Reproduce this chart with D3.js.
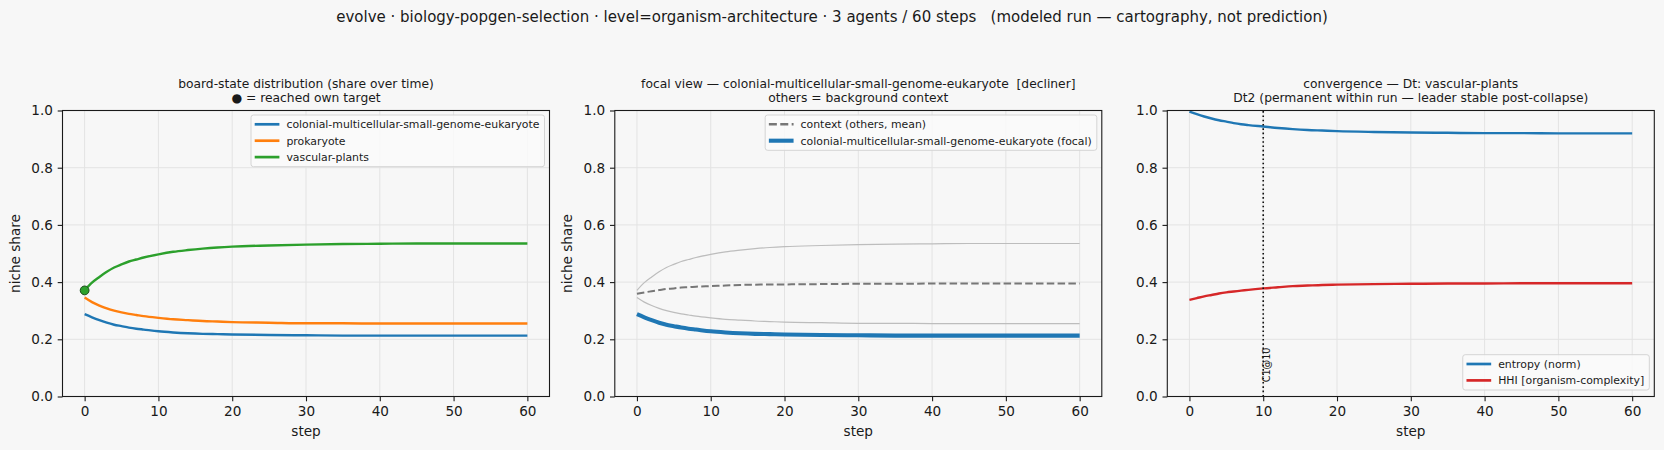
<!DOCTYPE html>
<html>
<head>
<meta charset="utf-8">
<script src="https://cdn.jsdelivr.net/npm/d3@7"></script>
<style>
  body { margin: 0; background: #f7f7f7; }
  text { font-family: "DejaVu Sans", sans-serif; fill: #1a1a1a; }
</style>
</head>
<body>
<script>
const steps = [0, 1, 2, 3, 4, 5, 6, 7, 8, 10, 12, 14, 16, 18, 20, 25, 30, 35, 40, 45, 50, 55, 60];

// niche share per agent
const colonial   = [0.288, 0.277, 0.267, 0.258, 0.251, 0.246, 0.241, 0.237, 0.234, 0.228, 0.224, 0.221, 0.219, 0.218, 0.217, 0.215, 0.214, 0.213, 0.213, 0.213, 0.213, 0.213, 0.213];
const prokaryote = [0.346, 0.330, 0.318, 0.308, 0.300, 0.294, 0.289, 0.285, 0.281, 0.275, 0.270, 0.267, 0.264, 0.262, 0.260, 0.258, 0.256, 0.256, 0.255, 0.255, 0.255, 0.255, 0.255];
const vascular   = [0.371, 0.398, 0.418, 0.436, 0.451, 0.462, 0.472, 0.479, 0.486, 0.497, 0.506, 0.512, 0.517, 0.521, 0.524, 0.528, 0.531, 0.533, 0.534, 0.535, 0.535, 0.535, 0.535];

// dashed context line (others, mean) in the focal view
const contextMean = [0.359, 0.364, 0.368, 0.372, 0.376, 0.378, 0.381, 0.382, 0.384, 0.386, 0.388, 0.390, 0.391, 0.392, 0.392, 0.393, 0.394, 0.394, 0.395, 0.395, 0.395, 0.395, 0.395];

// convergence panel
const entropy = [0.996, 0.987, 0.979, 0.972, 0.966, 0.961, 0.956, 0.952, 0.949, 0.944, 0.939, 0.935, 0.932, 0.930, 0.928, 0.925, 0.923, 0.922, 0.921, 0.921, 0.920, 0.920, 0.920];
const hhi     = [0.338, 0.344, 0.350, 0.355, 0.360, 0.364, 0.367, 0.370, 0.373, 0.378, 0.382, 0.386, 0.388, 0.390, 0.391, 0.393, 0.394, 0.395, 0.395, 0.396, 0.396, 0.396, 0.396];
const collapseStep = 10;
const collapseLabel = "C1@10";

// ticks
const xTicks = [0, 10, 20, 30, 40, 50, 60];
const yTicks = [0, 0.2, 0.4, 0.6, 0.8, 1.0];

const suptitle = "evolve · biology-popgen-selection · level=organism-architecture · 3 agents / 60 steps   (modeled run — cartography, not prediction)";

// layout
const width = 1664, height = 450;
const axTop = 110.5, axBottom = 396.5, axW = 487;
const lefts = [62.5, 614.8, 1167.3];

const svg = d3.select("body").append("svg")
  .attr("width", width)
  .attr("height", height);

svg.append("rect").attr("width", width).attr("height", height).attr("fill", "#f7f7f7");

svg.append("text")
  .attr("x", width / 2).attr("y", 22)
  .attr("text-anchor", "middle")
  .attr("font-size", 15)
  .attr("xml:space", "preserve")
  .style("white-space", "pre")
  .text(suptitle);

// builds one subplot: grid, axes, title; returns the scales and a layer for the marks
function makePanel(i, title1, title2, ylabel) {
  const left = lefts[i];
  const x = d3.scaleLinear().domain([-3, 63]).range([left, left + axW]);
  const y = d3.scaleLinear().domain([0, 1]).range([axBottom, axTop]);
  const g = svg.append("g");

  // grid
  g.append("g").selectAll("line").data(xTicks).join("line")
    .attr("x1", d => x(d)).attr("x2", d => x(d))
    .attr("y1", axTop).attr("y2", axBottom)
    .attr("stroke", "#e3e3e3").attr("stroke-width", 1);
  g.append("g").selectAll("line").data(yTicks).join("line")
    .attr("x1", left).attr("x2", left + axW)
    .attr("y1", d => y(d)).attr("y2", d => y(d))
    .attr("stroke", "#e3e3e3").attr("stroke-width", 1);

  const plot = g.append("g");

  // axes
  const xa = g.append("g")
    .attr("transform", `translate(0,${axBottom})`)
    .call(d3.axisBottom(x).tickValues(xTicks).tickSize(4.8).tickPadding(4.8));
  const ya = g.append("g")
    .attr("transform", `translate(${left},0)`)
    .call(d3.axisLeft(y).tickValues(yTicks).tickFormat(d3.format(".1f")).tickSize(4.8).tickPadding(4.8));
  [xa, ya].forEach(a => {
    a.select(".domain").remove();
    a.attr("font-family", "DejaVu Sans").attr("font-size", 13.6);
    a.selectAll("line").attr("stroke", "#1a1a1a").attr("stroke-width", 1.1);
    a.selectAll("text").attr("fill", "#1a1a1a");
  });

  // spines
  g.append("rect")
    .attr("x", left).attr("y", axTop)
    .attr("width", axW).attr("height", axBottom - axTop)
    .attr("fill", "none").attr("stroke", "#1a1a1a").attr("stroke-width", 1.1);

  // titles and labels
  const cx = left + axW / 2;
  g.append("text").attr("x", cx).attr("y", 87.5).attr("text-anchor", "middle")
    .attr("font-size", 12.3).attr("xml:space", "preserve").style("white-space", "pre").text(title1);
  g.append("text").attr("x", cx).attr("y", 101.5).attr("text-anchor", "middle")
    .attr("font-size", 12.3).attr("xml:space", "preserve").style("white-space", "pre").text(title2);
  g.append("text").attr("x", cx).attr("y", 435.5).attr("text-anchor", "middle")
    .attr("font-size", 13.6).text("step");
  if (ylabel) {
    g.append("text")
      .attr("transform", `translate(${left - 43},${(axTop + axBottom) / 2}) rotate(-90)`)
      .attr("text-anchor", "middle").attr("font-size", 13.6).text(ylabel);
  }

  const layer = svg.append("g"); // legend etc. on top
  return { x, y, plot, layer, left };
}

function drawLine(p, values, color, w, dash) {
  const line = d3.line()
    .x((d, i) => p.x(steps[i]))
    .y(d => p.y(d))
    .curve(d3.curveMonotoneX);
  p.plot.append("path")
    .datum(values)
    .attr("d", line)
    .attr("fill", "none")
    .attr("stroke", color)
    .attr("stroke-width", w)
    .attr("stroke-dasharray", dash || null)
    .attr("stroke-linejoin", "round");
}

// legend box anchored to the right edge, at the top or bottom of the axes
function drawLegend(p, items, where) {
  const rowH = 16.4;
  const boxH = items.length * rowH + 2.5;
  const right = p.left + axW - 5;
  const boxTop = where === "top" ? axTop + 4.5 : axBottom - 6.5 - boxH;
  const lg = p.layer.append("g");
  const box = lg.append("rect")
    .attr("y", boxTop).attr("height", boxH)
    .attr("rx", 2.5)
    .attr("fill", "#fafafa").attr("fill-opacity", 0.85)
    .attr("stroke", "#d4d4d4").attr("stroke-width", 1);
  const texts = items.map((it, k) => lg.append("text")
    .attr("font-size", 10.9)
    .attr("y", boxTop + 9.3 + k * rowH)
    .attr("dy", "0.35em")
    .text(it.label));
  const tw = d3.max(texts, t => t.node().getComputedTextLength());
  const boxLeft = right - 5 - tw - 35.4;
  box.attr("x", boxLeft).attr("width", right - boxLeft);
  texts.forEach(t => t.attr("x", boxLeft + 35.4));
  items.forEach((it, k) => {
    const yy = boxTop + 9.3 + k * rowH;
    lg.append("line")
      .attr("x1", boxLeft + 3.7).attr("x2", boxLeft + 28.4)
      .attr("y1", yy).attr("y2", yy)
      .attr("stroke", it.color).attr("stroke-width", it.width)
      .attr("stroke-dasharray", it.dash || null);
  });
}

// panel 1: board-state distribution
const p1 = makePanel(0, "board-state distribution (share over time)", "\u25CF = reached own target", "niche share");
drawLine(p1, colonial, "#1f77b4", 2.4);
drawLine(p1, prokaryote, "#ff7f0e", 2.4);
drawLine(p1, vascular, "#2ca02c", 2.4);
p1.plot.append("circle")
  .attr("cx", p1.x(steps[0])).attr("cy", p1.y(vascular[0]))
  .attr("r", 4.4)
  .attr("fill", "#2ca02c").attr("stroke", "#1d4d1d").attr("stroke-width", 1);
drawLegend(p1, [
  { label: "colonial-multicellular-small-genome-eukaryote", color: "#1f77b4", width: 2.7 },
  { label: "prokaryote", color: "#ff7f0e", width: 2.7 },
  { label: "vascular-plants", color: "#2ca02c", width: 2.7 }
], "top");

// panel 2: focal view
const p2 = makePanel(1, "focal view \u2014 colonial-multicellular-small-genome-eukaryote  [decliner]", "others = background context", "niche share");
drawLine(p2, vascular, "#bdbdbd", 1.2);
drawLine(p2, prokaryote, "#bdbdbd", 1.2);
drawLine(p2, contextMean, "#777777", 2, "7.5,3.3");
drawLine(p2, colonial, "#1f77b4", 4.1);
drawLegend(p2, [
  { label: "context (others, mean)", color: "#777777", width: 2.4, dash: "8,3.4" },
  { label: "colonial-multicellular-small-genome-eukaryote (focal)", color: "#1f77b4", width: 4.1 }
], "top");

// panel 3: convergence
const p3 = makePanel(2, "convergence \u2014 Dt: vascular-plants", "Dt2 (permanent within run \u2014 leader stable post-collapse)", null);
drawLine(p3, entropy, "#1f77b4", 2.4);
drawLine(p3, hhi, "#d62728", 2.4);
p3.plot.append("line")
  .attr("x1", p3.x(collapseStep)).attr("x2", p3.x(collapseStep))
  .attr("y1", p3.y(0)).attr("y2", p3.y(1))
  .attr("stroke", "#111").attr("stroke-width", 1.6)
  .attr("stroke-dasharray", "1.6,2.7");
p3.plot.append("text")
  .attr("transform", `translate(${p3.x(collapseStep) + 7},${p3.y(0.05)}) rotate(-90)`)
  .attr("font-size", 9.6)
  .text(collapseLabel);
drawLegend(p3, [
  { label: "entropy (norm)", color: "#1f77b4", width: 2.7 },
  { label: "HHI [organism-complexity]", color: "#d62728", width: 2.7 }
], "bottom");
</script>
</body>
</html>
